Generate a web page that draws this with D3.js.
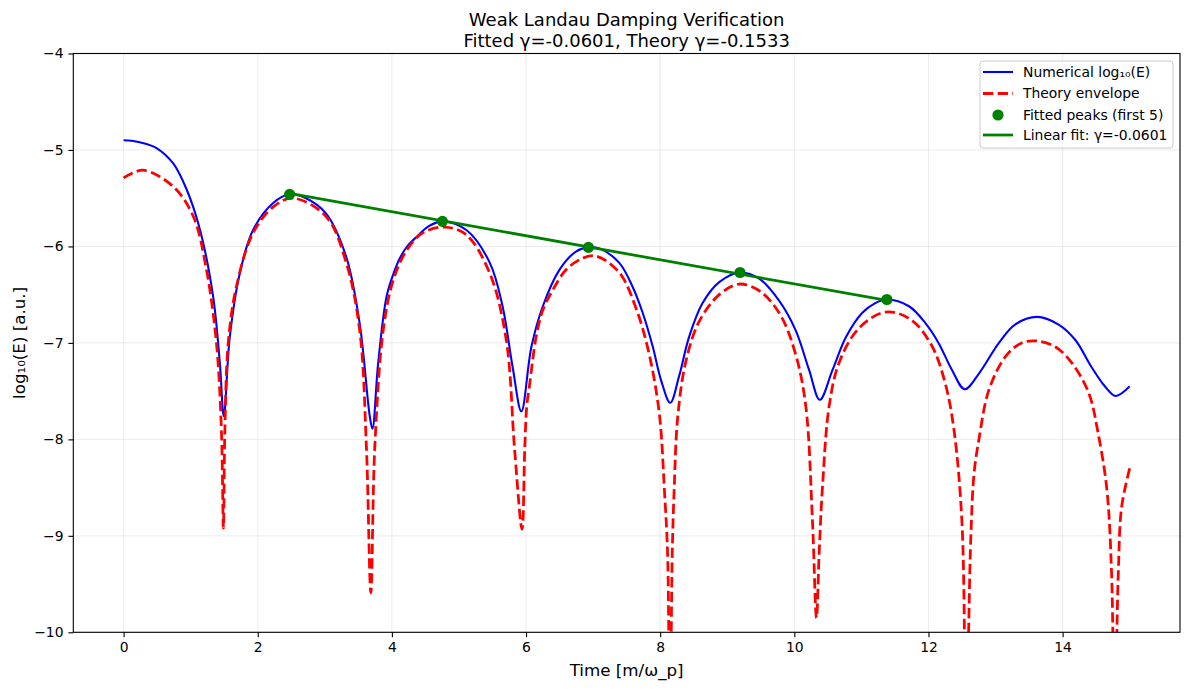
<!DOCTYPE html>
<html>
<head>
<meta charset="utf-8">
<script src="https://cdn.jsdelivr.net/npm/d3@7"></script>
<style>
    body { margin: 0; background: #fff; }
    svg text { font-family: "DejaVu Sans", sans-serif; fill: #000; }
</style>
</head>
<body>
<div id="chart"></div>
<script>
// numerical log10(E)
const numTime = [0, 0.12, 0.24, 0.49, 0.74, 0.94, 1.14, 1.335, 1.435, 1.494, 1.583, 1.732, 1.93, 2.23, 2.476, 2.72,
    3.02, 3.32, 3.52, 3.67, 3.71, 3.795, 3.92, 4.02, 4.12, 4.24, 4.37, 4.55, 4.75, 5.11, 5.46, 5.65, 5.80, 5.93,
    6.08, 6.25, 6.50, 6.75, 6.93, 7.09, 7.39, 7.59, 7.74, 7.89, 8.01, 8.15, 8.28, 8.43, 8.63, 8.88, 9.19, 9.47,
    9.77, 10.02, 10.22, 10.38, 10.57, 10.77, 11.01, 11.20, 11.38, 11.71, 11.96, 12.15, 12.35, 12.54, 12.75,
    13.05, 13.29, 13.62, 13.94, 14.19, 14.43, 14.63, 14.79, 15.0];
const numLog = [-4.90, -4.905, -4.92, -4.98, -5.14, -5.41, -5.83, -6.52, -7.21, -7.76, -6.94, -6.28, -5.83, -5.55, -5.46, -5.50,
    -5.66, -6.11, -6.80, -7.76, -7.89, -7.21, -6.52, -6.29, -6.12, -5.99, -5.90, -5.79, -5.74, -5.83, -6.17, -6.62, -7.25, -7.71,
    -7.04, -6.62, -6.24, -6.05, -6.01, -6.02, -6.17, -6.42, -6.69, -7.04, -7.38, -7.62, -7.35, -6.94, -6.59, -6.37, -6.27, -6.33,
    -6.56, -6.87, -7.28, -7.59, -7.28, -6.94, -6.69, -6.59, -6.55, -6.62, -6.80, -7.00, -7.28, -7.48, -7.32,
    -7.00, -6.81, -6.73, -6.81, -6.97, -7.25, -7.45, -7.55, -7.45];

// theory envelope (dips below -10 are clipped by the axes)
const theoryTime = [0, 0.29, 0.74, 1.04, 1.235, 1.384, 1.458, 1.488, 1.51, 1.56, 1.68, 1.93, 2.23, 2.525, 3.02,
    3.32, 3.52, 3.62, 3.686, 3.745, 3.87, 4.02, 4.22, 4.46, 4.79, 5.11, 5.46, 5.705, 5.83, 5.94, 5.98, 6.01,
    6.05, 6.15, 6.25, 6.40, 6.60, 6.85, 7.045, 7.39, 7.64, 7.84, 7.99, 8.06, 8.11, 8.145, 8.18, 8.21, 8.26,
    8.38, 8.58, 8.88, 9.18, 9.50, 9.80, 10.02, 10.17, 10.27, 10.33, 10.37, 10.42, 10.52, 10.67, 10.96, 11.36,
    11.74, 12.05, 12.25, 12.38, 12.50, 12.56, 12.63, 12.68, 12.75, 12.90, 13.15, 13.39, 13.62,
    13.89, 14.14, 14.39, 14.53, 14.66, 14.73, 14.775, 14.83, 14.88, 15.0];
const theoryLog = [-5.29, -5.21, -5.38, -5.69, -6.24, -7.00, -7.90, -8.92, -7.90, -7.00, -6.42, -5.86, -5.59, -5.50, -5.69,
    -6.17, -6.87, -8.08, -9.59, -8.08, -6.87, -6.35, -6.04, -5.86, -5.80, -5.88, -6.28, -6.97, -8.11, -8.93, -8.11, -7.66,
    -7.45, -6.94, -6.66, -6.45, -6.24, -6.12, -6.10, -6.27, -6.64, -7.13, -7.75, -8.49, -9.18, -11.0, -9.18, -8.49, -7.78,
    -7.20, -6.78, -6.50, -6.39, -6.47, -6.72, -7.12, -7.65, -8.84, -9.85, -9.18, -8.49, -7.65, -7.20, -6.85, -6.68,
    -6.76, -7.03, -7.42, -7.90, -8.87, -11.0, -9.04, -8.35, -8.01, -7.49, -7.14, -7.00, -6.98,
    -7.04, -7.21, -7.52, -7.94, -8.52, -9.39, -11.0, -9.39, -8.70, -8.30];

// fitted peaks and the linear fit through them
const peakTime = [2.476, 4.753, 6.93, 9.19, 11.38];
const peakLog = [-5.46, -5.74, -6.01, -6.27, -6.55];
const fitTime = [2.476, 11.38];
const fitLog = [-5.45, -6.56];

const xTicks = [0, 2, 4, 6, 8, 10, 12, 14];
const yTicks = [-10, -9, -8, -7, -6, -5, -4];

const legendLabels = ['Numerical log₁₀(E)', 'Theory envelope', 'Fitted peaks (first 5)', 'Linear fit: γ=-0.0601'];

const W = 1189, H = 690;
const plot = { left: 73.3, top: 53.5, right: 1180, bottom: 632.3 };

const svg = d3.select('#chart').append('svg')
    .attr('width', W)
    .attr('height', H);

const x = d3.scaleLinear().domain([-0.75, 15.75]).range([plot.left, plot.right]);
const y = d3.scaleLinear().domain([-10, -4]).range([plot.bottom, plot.top]);

const minus = v => String(v).replace('-', '\u2212');

// grid
const grid = svg.append('g').attr('stroke', '#b0b0b0').attr('stroke-opacity', 0.3).attr('stroke-width', 0.8);
grid.selectAll('.gx').data(xTicks).enter().append('line')
    .attr('x1', d => x(d)).attr('x2', d => x(d))
    .attr('y1', plot.top).attr('y2', plot.bottom);
grid.selectAll('.gy').data(yTicks).enter().append('line')
    .attr('x1', plot.left).attr('x2', plot.right)
    .attr('y1', d => y(d)).attr('y2', d => y(d));

svg.append('clipPath').attr('id', 'plotClip')
    .append('rect')
    .attr('x', plot.left).attr('y', plot.top)
    .attr('width', plot.right - plot.left).attr('height', plot.bottom - plot.top);

const dataG = svg.append('g').attr('clip-path', 'url(#plotClip)');

const line = d3.line()
    .x(d => x(d[0]))
    .y(d => y(d[1]))
    .curve(d3.curveCatmullRom.alpha(0.5));

dataG.append('path')
    .attr('d', line(d3.zip(numTime, numLog)))
    .attr('fill', 'none')
    .attr('stroke', '#0000ff')
    .attr('stroke-width', 2.08)
    .attr('stroke-linejoin', 'round');

dataG.append('path')
    .attr('d', line(d3.zip(theoryTime, theoryLog)))
    .attr('fill', 'none')
    .attr('stroke', '#ff0000')
    .attr('stroke-width', 2.78)
    .attr('stroke-dasharray', '10.3,4.4');

dataG.selectAll('.peak')
    .data(d3.zip(peakTime, peakLog))
    .enter()
    .append('circle')
    .attr('class', 'peak')
    .attr('cx', d => x(d[0]))
    .attr('cy', d => y(d[1]))
    .attr('r', 5.6)
    .attr('fill', '#008000');

dataG.append('path')
    .attr('d', d3.line().x(d => x(d[0])).y(d => y(d[1]))(d3.zip(fitTime, fitLog)))
    .attr('fill', 'none')
    .attr('stroke', '#008000')
    .attr('stroke-width', 2.78);

// axes
const xAxis = d3.axisBottom(x).tickValues(xTicks).tickSize(4.9).tickPadding(4.9);
const yAxis = d3.axisLeft(y).tickValues(yTicks).tickSize(4.9).tickPadding(4.9).tickFormat(minus);

const gx = svg.append('g').attr('transform', `translate(0,${plot.bottom})`).call(xAxis);
const gy = svg.append('g').attr('transform', `translate(${plot.left},0)`).call(yAxis);
[gx, gy].forEach(g => {
    g.select('.domain').remove();
    g.selectAll('line').attr('stroke', '#000').attr('stroke-width', 1.1);
    g.selectAll('text').attr('font-size', '13.9px').attr('fill', '#000');
});

// frame
svg.append('rect')
    .attr('x', plot.left).attr('y', plot.top)
    .attr('width', plot.right - plot.left).attr('height', plot.bottom - plot.top)
    .attr('fill', 'none').attr('stroke', '#000').attr('stroke-width', 1.1);

// titles and labels
const cx = (plot.left + plot.right) / 2;
svg.append('text').attr('x', cx).attr('y', 25.5).attr('text-anchor', 'middle')
    .attr('font-size', '18px').text('Weak Landau Damping Verification');
svg.append('text').attr('x', cx).attr('y', 46.5).attr('text-anchor', 'middle')
    .attr('font-size', '18px').text('Fitted γ=-0.0601, Theory γ=-0.1533');

svg.append('text').attr('x', cx).attr('y', 676).attr('text-anchor', 'middle')
    .attr('font-size', '16.7px').text('Time [m/ω_p]');
svg.append('text')
    .attr('transform', `translate(24.5,${(plot.top + plot.bottom) / 2}) rotate(-90)`)
    .attr('text-anchor', 'middle')
    .attr('font-size', '16.7px').text('log₁₀(E) [a.u.]');

// legend
const lg = svg.append('g').attr('transform', 'translate(980,61)');
lg.append('rect')
    .attr('width', 193).attr('height', 87).attr('rx', 3)
    .attr('fill', '#fff').attr('fill-opacity', 0.8)
    .attr('stroke', '#cccccc').attr('stroke-width', 1);

const rowY = [11, 32.5, 54, 74];
lg.append('line').attr('x1', 3).attr('x2', 33).attr('y1', rowY[0]).attr('y2', rowY[0])
    .attr('stroke', '#0000ff').attr('stroke-width', 2.08);
lg.append('line').attr('x1', 3).attr('x2', 33).attr('y1', rowY[1]).attr('y2', rowY[1])
    .attr('stroke', '#ff0000').attr('stroke-width', 2.78).attr('stroke-dasharray', '10.3,4.4');
lg.append('circle').attr('cx', 18).attr('cy', rowY[2]).attr('r', 5.6).attr('fill', '#008000');
lg.append('line').attr('x1', 3).attr('x2', 33).attr('y1', rowY[3]).attr('y2', rowY[3])
    .attr('stroke', '#008000').attr('stroke-width', 2.78);

lg.selectAll('.lbl')
    .data(legendLabels)
    .enter()
    .append('text')
    .attr('x', 43)
    .attr('y', (d, i) => rowY[i])
    .attr('dy', '0.35em')
    .attr('font-size', '13.9px')
    .text(d => d);
</script>
</body>
</html>
